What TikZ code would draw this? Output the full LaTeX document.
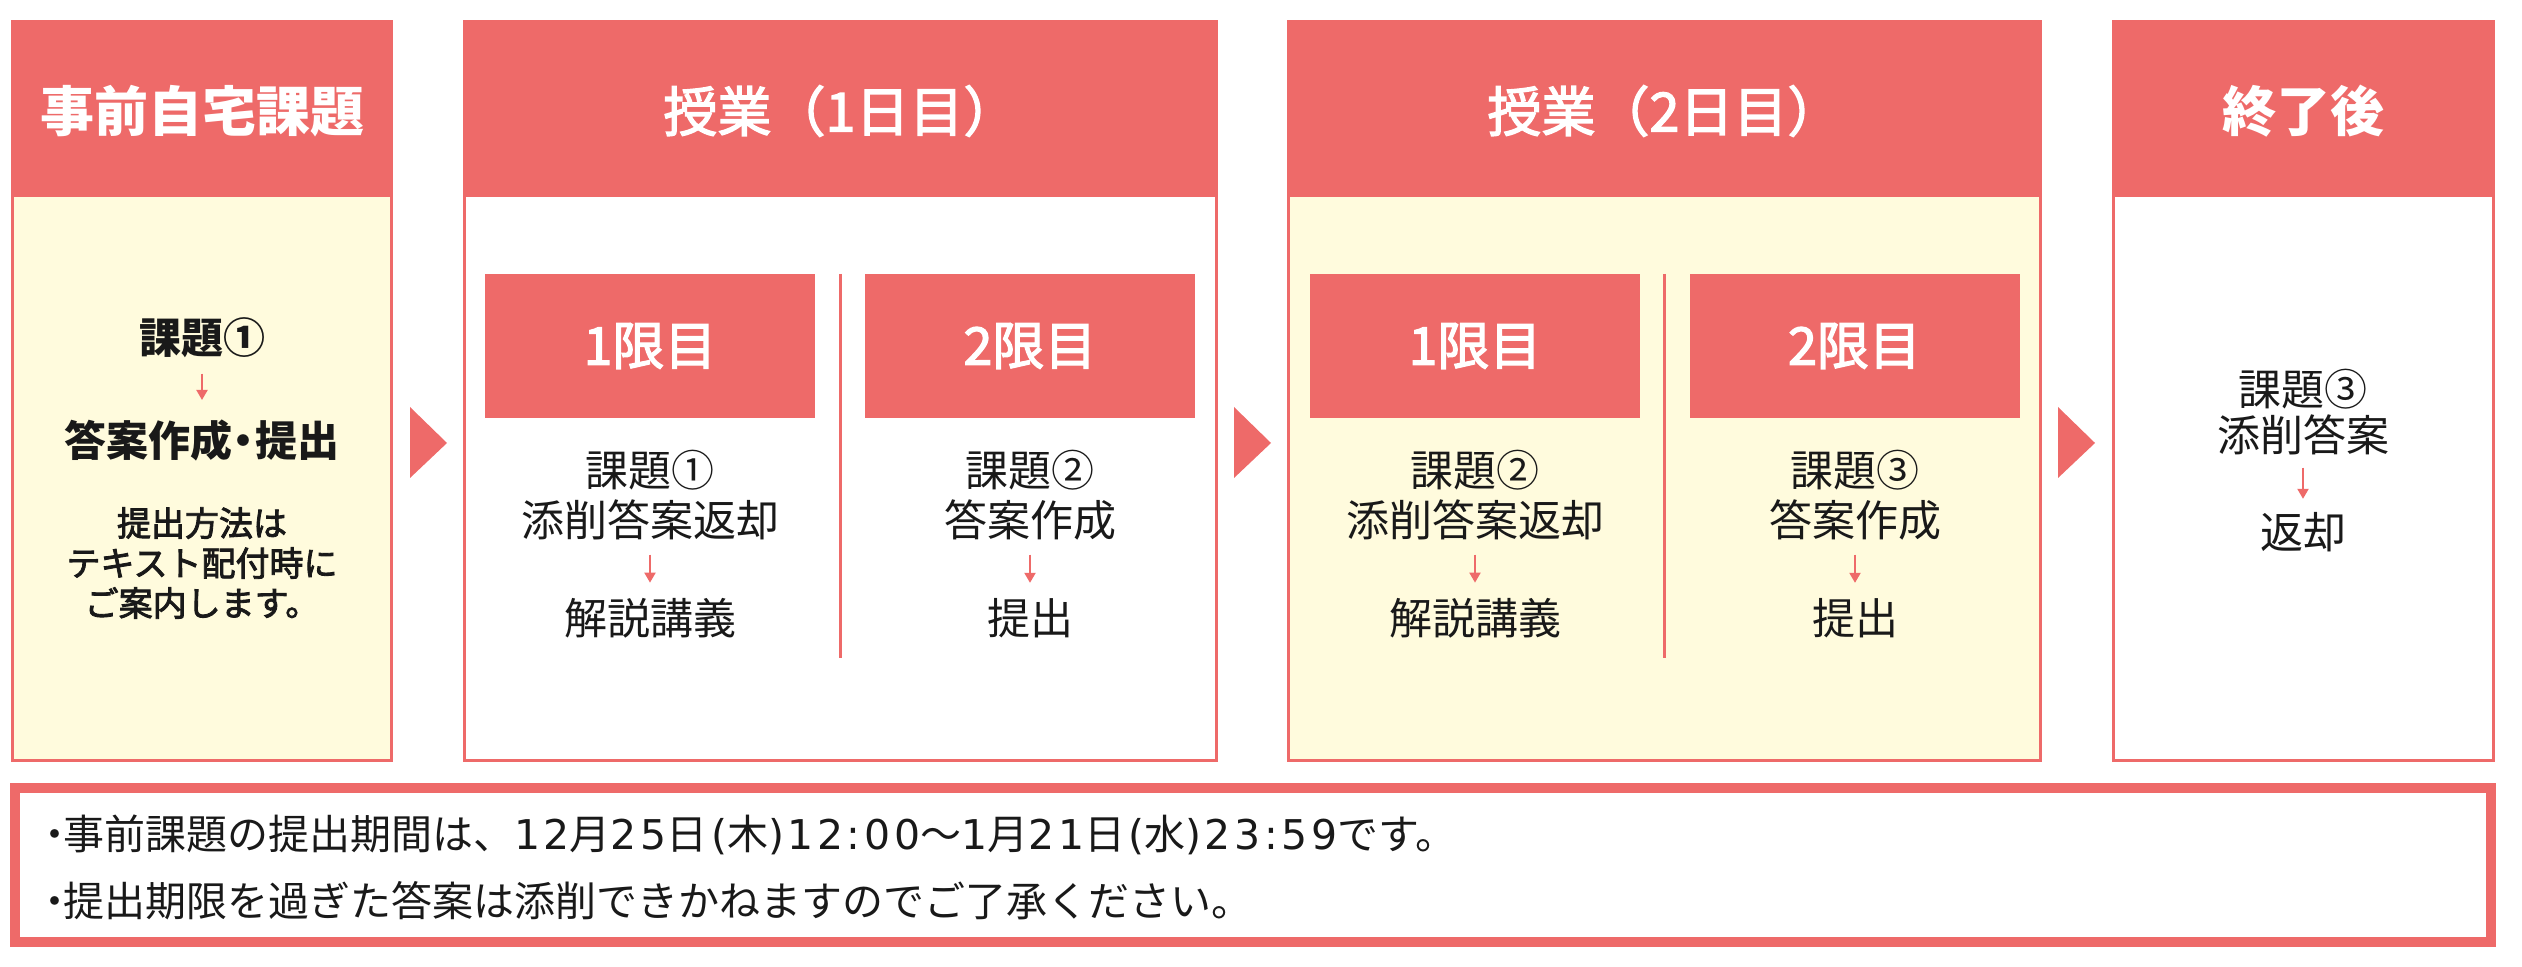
\documentclass[tikz,border=0pt]{standalone}
\usepackage{fontspec}
\setmainfont{Noto Sans CJK JP}
\newfontfamily\jpmid{Noto Sans CJK JP}[FakeBold=2.5]
\newfontfamily\dv{DejaVu Sans}[LetterSpace=9]
\usetikzlibrary{arrows.meta}
\definecolor{salmon}{RGB}{238,106,105}
\definecolor{cream}{RGB}{255,251,221}
\definecolor{ink}{RGB}{25,25,25}
\begin{document}
\begin{tikzpicture}[x=0.5pt,y=-0.5pt,
  frame/.style={draw=salmon,line width=1.5pt},
  hdrtext/.style={inner sep=0pt,text=white,font=\fontsize{27pt}{32pt}\selectfont\bfseries},
  hdrmid/.style={inner sep=0pt,text=white,font=\fontsize{27pt}{32pt}\selectfont\jpmid},
  period/.style={fill=salmon,inner sep=0pt,minimum width=165pt,minimum height=72pt,
     text=white,font=\fontsize{26pt}{30pt}\selectfont\jpmid},
  body/.style={inner sep=0pt,text=ink,font=\fontsize{21.5pt}{26pt}\selectfont},
  bodyb/.style={inner sep=0pt,text=ink,font=\fontsize{21pt}{25pt}\selectfont\bfseries},
  note/.style={inner sep=0pt,text=ink,align=center,font=\fontsize{17pt}{20pt}\selectfont\jpmid},
  foot/.style={inner sep=0pt,text=ink,anchor=base west,font=\fontsize{20.5pt}{24pt}\selectfont},
  arr/.style={draw=salmon,line width=1pt,-{Triangle[width=5.5pt,length=5pt]},shorten <=7pt,shorten >=7.5pt},
  divider/.style={draw=salmon,line width=1.5pt},
  tri/.style={fill=salmon}]
\useasboundingbox (0,0) rectangle (2522,967);

% ---------- panel 1 ----------
\fill[cream] (11,20) rectangle (393,762);
\fill[salmon] (11,20) rectangle (393,197);
\draw[frame] (12.5,21.5) rectangle (391.5,760.5);
\node[hdrtext] (h1) at (202,111) {事前自宅課題};
\node[bodyb] (p1a) at (202,338) {課題①};
\node[bodyb] (p1b) at (202,441) {答案作成\hspace{-.22em}・\hspace{-.22em}提出};
\node[note] (p1c) at (202,563) {提出方法は\\テキスト配付時に\\ご案内します。};
\draw[arr,shorten <=7.5pt,shorten >=10pt] (p1a.south) -- (p1b.north);

\fill[tri] (410,407) -- (447,443) -- (410,478) -- cycle;

% ---------- panel 2 ----------
\fill[white] (463,20) rectangle (1218,762);
\fill[salmon] (463,20) rectangle (1218,197);
\draw[frame] (464.5,21.5) rectangle (1216.5,760.5);
\node[hdrmid] (h2) at (840.5,111) {授業（1日目）};
\node[period] (s21) at (650,346) {1限目};
\node[period] (s22) at (1030,346) {2限目};
\draw[divider] (840,274) -- (840,658);
\node[body] (a1) at (650,470) {課題①};
\node[body] (a2) at (650,520) {添削答案返却};
\node[body] (a3) at (650,618) {解説講義};
\draw[arr] (a2.south) -- (a3.north);
\node[body] (b1) at (1030,470) {課題②};
\node[body] (b2) at (1030,520) {答案作成};
\node[body] (b3) at (1030,618) {提出};
\draw[arr] (b2.south) -- (b3.north);

\fill[tri] (1234,407) -- (1271,443) -- (1234,478) -- cycle;

% ---------- panel 3 ----------
\fill[cream] (1287,20) rectangle (2042,762);
\fill[salmon] (1287,20) rectangle (2042,197);
\draw[frame] (1288.5,21.5) rectangle (2040.5,760.5);
\node[hdrmid] (h3) at (1664.5,111) {授業（2日目）};
\node[period] (s31) at (1475,346) {1限目};
\node[period] (s32) at (1854.5,346) {2限目};
\draw[divider] (1664,274) -- (1664,658);
\node[body] (c1) at (1475,470) {課題②};
\node[body] (c2) at (1475,520) {添削答案返却};
\node[body] (c3) at (1475,618) {解説講義};
\draw[arr] (c2.south) -- (c3.north);
\node[body] (d1) at (1855,470) {課題③};
\node[body] (d2) at (1855,520) {答案作成};
\node[body] (d3) at (1855,618) {提出};
\draw[arr] (d2.south) -- (d3.north);

\fill[tri] (2058,407) -- (2095,443) -- (2058,478) -- cycle;

% ---------- panel 4 ----------
\fill[white] (2112,20) rectangle (2495,762);
\fill[salmon] (2112,20) rectangle (2495,197);
\draw[frame] (2113.5,21.5) rectangle (2493.5,760.5);
\node[hdrtext] (h4) at (2303.5,111) {終了後};
\node[body] (e1) at (2303,389) {課題③};
\node[body] (e2) at (2303,435) {添削答案};
\node[body] (e3) at (2303,532) {返却};
\draw[arr,shorten <=6pt,shorten >=6.5pt] (e2.south) -- (e3.north);

% ---------- notice ----------
\draw[salmon,line width=5pt] (15,788) rectangle (2491,942);
\node[foot] (n1) at (34,849) {・\hspace{-.3em}事前課題の提出期間は、{\dv 12}月{\dv 25}日\hspace{.08em}{\dv (}木{\dv )\hspace{.08em}12:00}〜{\dv 1}月{\dv 21}日\hspace{.08em}{\dv (}水{\dv )\hspace{.08em}23:59}です。};
\node[foot] (n2) at (34,916) {・\hspace{-.3em}提出期限を過ぎた答案は添削できかねますのでご了承ください。};
\end{tikzpicture}
\end{document}
